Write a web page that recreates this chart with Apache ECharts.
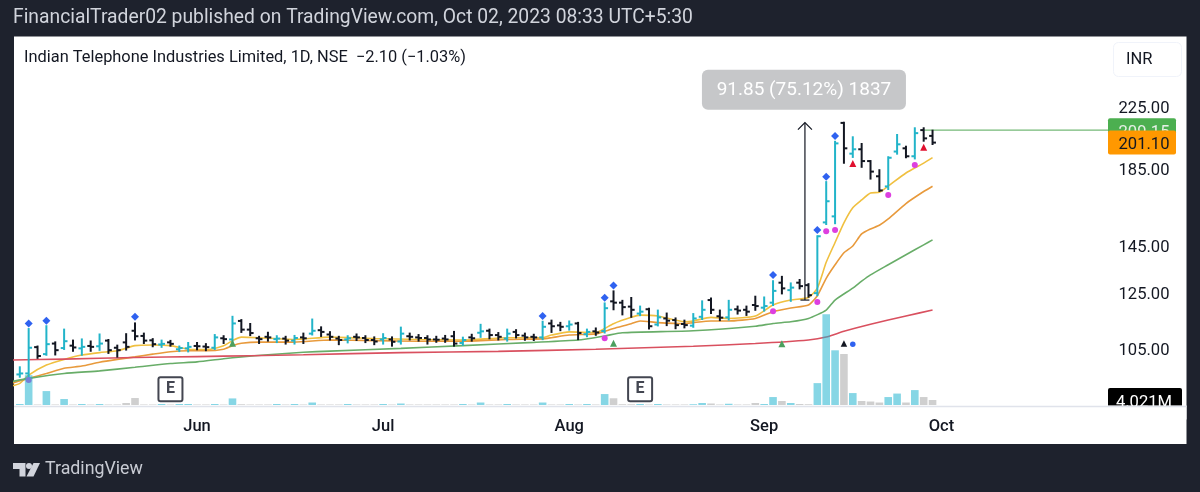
<!DOCTYPE html>
<html>
<head>
<meta charset="utf-8">
<style>html,body{margin:0;padding:0;background:#1e222d}#chart{width:1200px;height:492px}</style>
<script src="https://cdn.jsdelivr.net/npm/echarts@6/dist/echarts.min.js"></script>
</head>
<body>
<div id="chart"></div>
<script>
// daily bars from mid May 2023, index 0 is the first full bar in view
var opens = [96.7,97.0,105.4,103.1,106.6,105.1,105.9,105.0,105.8,105.7,107.6,105.2,107.0,111.0,109.2,107.7,106.3,107.0,104.7,105.0,
  105.8,105.6,105.2,108.4,108.0,114.5,111.4,108.4,108.9,108.1,108.3,107.6,108.7,110.0,111.2,109.7,108.3,108.0,108.9,108.5,107.8,
  108.0,108.0,107.3,109.1,108.7,108.5,108.0,108.3,109.1,106.8,108.7,110.3,111.0,109.5,108.3,110.6,109.3,108.9,108.7,113.6,112.9,
  112.6,113.6,109.8,110.8,110.9,121.8,121.3,119.8,117.2,118.8,113.2,115.4,114.8,113.4,112.8,116.0,122.3,116.2,115.8,118.8,118.6,120.4,
  119.4,121.3,129.2,126.2,129.2,128.2,125.0,156.3,159.3,214.0,194.2,196.9,189.7,180.8,175.1,195.5,197.5,192.6,209.2,205.4];
var highs = [98.9,111.6,105.6,112.6,107.0,111.4,107.6,108.0,107.3,109.7,107.8,105.9,109.8,113.6,110.0,108.1,107.6,107.5,105.6,106.8,
  106.8,106.4,109.5,109.1,116.0,114.8,113.4,108.9,110.3,109.1,108.9,109.2,110.0,115.0,112.2,110.5,108.9,109.1,109.7,109.1,108.7,
  109.8,108.7,112.1,110.0,109.5,109.1,108.9,109.2,110.6,108.6,109.6,113.1,111.4,110.2,111.4,111.2,110.0,109.6,114.2,114.6,113.8,
  114.3,113.8,111.4,111.8,121.0,125.7,122.0,123.1,119.8,119.0,118.3,117.2,115.4,114.6,117.0,121.8,122.9,118.3,122.0,119.8,119.8,123.6,
  123.3,129.8,131.6,128.9,130.3,128.6,149.6,177.5,201.6,214.1,204.5,200.2,189.7,184.3,192.0,206.0,198.5,210.4,210.4,208.8];
var lows = [96.0,95.0,101.9,102.9,103.0,104.8,104.2,102.9,104.2,104.5,103.5,102.3,104.6,108.0,106.8,105.7,105.5,105.9,104.1,104.0,
  104.7,104.4,104.8,106.8,106.6,110.6,109.5,106.8,107.6,107.1,106.6,106.6,106.8,109.7,109.2,108.0,106.4,107.0,107.8,107.1,106.4,
  106.6,105.9,106.6,108.0,107.6,106.6,107.2,107.2,105.9,106.2,107.6,108.9,108.4,108.0,107.6,108.7,107.9,107.8,108.1,110.6,111.2,
  111.4,108.1,109.1,109.6,110.4,118.8,116.9,116.0,116.6,111.8,112.9,113.0,111.9,112.2,112.4,115.2,117.4,114.8,115.0,117.2,116.7,118.6,
  118.3,120.4,124.9,122.0,126.9,123.6,124.2,155.5,155.9,188.7,192.2,186.3,179.5,172.6,173.7,194.2,192.0,191.3,202.3,200.2];
var closes = [97.0,105.2,102.5,106.4,104.4,107.4,105.3,105.5,105.5,106.6,104.4,104.4,105.5,109.1,107.6,106.4,106.5,106.5,105.1,105.5,
  105.7,105.4,108.7,108.1,113.6,111.4,110.2,108.1,108.7,108.3,107.6,108.5,108.4,111.0,110.6,108.9,107.8,108.4,108.7,107.8,107.3,
  108.5,107.2,110.0,108.9,108.5,108.0,107.9,108.0,106.6,107.8,108.4,110.8,109.5,108.9,110.0,109.5,108.7,108.7,112.4,112.6,112.4,
  113.2,110.2,110.6,110.4,119.2,121.3,119.6,118.6,117.9,112.6,115.8,114.6,113.0,113.0,115.4,118.6,118.6,115.7,118.6,118.3,117.9,120.0,
  120.0,125.9,126.9,127.2,127.8,124.2,149.6,167.1,200.6,197.5,196.9,189.7,183.5,172.9,191.7,200.0,192.6,207.2,203.8,201.1];
var volumes = [0.8,24,0.4,11.2,0.4,4.8,0.4,0.8,0.4,0.8,0.4,0.4,1.6,5.6,0.4,0.4,0.8,0.4,0.8,0.8,
  0.4,0.4,0.8,0.4,5.3,0.6,0.4,0.4,0.4,0.8,0.4,0.8,0.4,2,0.4,0.4,0.4,0.8,0.4,0.4,0.4,
  0.8,0.4,1.2,0.4,0.4,0.4,0.4,0.4,0.4,0.8,0.4,2,0.4,0.4,0.8,0.4,0.4,0.4,2,0.4,0.4,
  0.8,0.4,0.8,0.4,8.8,5.4,0.6,0.6,0.8,0.4,0.8,0.4,0.4,0.4,0.6,1.6,1.2,0.4,1,0.4,0.4,1.6,
  0.8,6.4,3.2,1.6,0.8,0.6,17.6,73,44,41,9.6,3.2,2.8,2,6.4,9.2,2,12,6.4,4.021];

// moving averages, read at the bars where they bend
var ema1Idx = [-1,0,1,3,5,7,9,11,13,15,17,19,21,23,24,25,27,31,35,40,45,50,55,59,60,62,65,66,67,69,70,72,75,76,78,80,83,85,87,89,90,91,92,93,94,95,96,97,98,100,102,103];
var ema1Val = [93.2,94.0,96.5,99.6,101.4,102.8,103.6,104.2,105.9,106.1,105.9,104.7,104.6,105.9,107.6,108.8,108.6,108.0,108.8,108.3,108.0,107.8,108.6,108.6,109.5,110.6,110.4,111.8,113.5,115.8,116.6,116.3,114.2,114.5,115.8,115.4,116.3,120.4,122.3,123.3,127.0,137.8,146.7,156.1,163.7,167.8,171.5,171.9,175.3,182.7,188.5,191.8];
var ema2Idx = [-1,1,3,5,7,9,11,13,15,17,19,21,23,24,25,27,31,35,40,45,50,55,59,60,62,65,66,67,69,70,72,75,76,78,80,83,85,87,89,90,91,92,93,94,95,96,97,98,100,102,103];
var ema2Val = [94.0,95.5,97.0,98.6,99.3,100.5,101.4,102.2,103.1,103.9,104.2,104.2,104.7,105.9,106.7,107.1,107.1,107.8,107.6,107.4,107.4,108.0,108.2,108.6,109.5,109.9,110.8,111.8,113.5,114.5,113.9,113.5,113.9,114.5,114.5,115.4,117.9,119.3,120.4,124.0,131.0,136.7,142.0,145.1,150.7,153.1,154.9,158.0,165.9,172.3,175.2];
var ema3Idx = [-1,1,5,9,13,17,20,23,25,28,32,35,43,50,58,63,66,68,76,83,85,87,89,91,92,94,95,96,98,100,102,103];
var ema3Val = [94.5,95.5,97.0,97.8,98.9,100.1,100.6,101.6,102.2,102.9,103.7,104.1,105.0,105.9,107.0,107.8,109.2,110.3,111.0,112.6,113.6,114.2,115.4,118.5,122.3,127.0,129.8,132.4,136.7,141.1,145.6,147.9];
var ema4Idx = [-1,5,13,20,26,32,43,54,65,76,83,89,91,93,96,100,103];
var ema4Val = [101.2,101.5,102.0,102.3,102.6,102.9,103.6,104.0,104.7,105.7,106.6,107.8,108.8,110.8,113.3,116.3,118.5];

// signal marks
var diamondIdx = [1,3,13,59,66,67,85,90,91,92];
var diamondVal = [113.6,114.6,116.0,116.3,123.2,128.1,132.4,152.6,180.6,205.3];
var pinkIdx = [1,66,85,90,91,92,98,101];
var pinkVal = [95.0,108.4,118.1,121.6,152.0,152.6,170.4,187.3];
var greenTriIdx = [24,67,86];
var greenTriVal = [106.7,106.7,106.5];
var redTriIdx = [94,102];
var redTriVal = [188.3,198.1];
var blackTriIdx = [93];
var blackTriVal = [106.6];
var blueDotIdx = [94];
var blueDotVal = [106.4];
var earningsIdx = [17,70];
var earningsVal = [92.3,92.3];

var monthTicks = [20,41,62,84,104];
var monthLabels = ['Jun','Jul','Aug','Sep','Oct'];
var priceTicks = [105,125,145,185,225];
var rayStart = 102, rayEnd = 122.8, rayPrice = 209.15;
var lastPrice = 201.10, lastVolume = 4.021;
var measureIdx = 88.6, measureLow = 122.3, measureHigh = 214.15;
var measureText = '91.85 (75.12%) 1837';

var FONT = 'Roboto';
var UP = '#22b4c9', DOWN = '#131722';

function zip(xs, ys) {
    return xs.map(function (x, i) { return [x, ys[i]]; });
}

function renderBar(params, api) {
    var x = api.value(0);
    var o = api.coord([x, api.value(1)]);
    var h = api.coord([x, api.value(2)]);
    var l = api.coord([x, api.value(3)]);
    var c = api.coord([x, api.value(4)]);
    var style = { stroke: api.value(4) >= api.value(1) ? UP : DOWN, lineWidth: 2, fill: null };
    return {
        type: 'group',
        children: [
            { type: 'line', shape: { x1: o[0], y1: h[1] - 1, x2: o[0], y2: l[1] + 1 }, style: style },
            { type: 'line', shape: { x1: o[0] - 3.4, y1: o[1], x2: o[0], y2: o[1] }, style: style },
            { type: 'line', shape: { x1: c[0], y1: c[1], x2: c[0] + 3.4, y2: c[1] }, style: style }
        ]
    };
}

function renderMeasure(params, api) {
    var top = api.coord([measureIdx, measureHigh]);
    var low = api.coord([measureIdx, measureLow]);
    var style = { stroke: '#131722', lineWidth: 1.2, fill: null };
    return {
        type: 'group',
        children: [
            { type: 'line', shape: { x1: top[0], y1: top[1], x2: low[0], y2: low[1] }, style: style },
            { type: 'polyline', shape: { points: [[top[0] - 7, top[1] + 7], [top[0], top[1]], [top[0] + 7, top[1] + 7]] }, style: style },
            { type: 'line', shape: { x1: low[0] - 4.5, y1: low[1], x2: low[0] + 4.5, y2: low[1] }, style: style },
            { type: 'rect', shape: { x: top[0] - 103, y: top[1] - 53, width: 204, height: 40, r: 6 }, style: { fill: '#c6c7c9' } },
            { type: 'text', x: top[0] - 1, y: top[1] - 32, style: { text: measureText, fill: '#fff', font: '19px ' + FONT, align: 'center', verticalAlign: 'middle' } }
        ]
    };
}

function tagSeries(xAxisIndex, yAxisIndex, value, text, width, fill, color, z) {
    return {
        type: 'custom',
        xAxisIndex: xAxisIndex,
        yAxisIndex: yAxisIndex,
        coordinateSystem: 'cartesian2d',
        data: [[rayEnd, value]],
        clip: false,
        silent: true,
        z: z,
        renderItem: function (params, api) {
            var p = api.coord([rayEnd, value]);
            return {
                type: 'group',
                children: [
                    { type: 'rect', shape: { x: p[0], y: p[1] - 12, width: width, height: 24, r: 2 }, style: { fill: fill } },
                    { type: 'text', x: p[0] + 36, y: p[1] + 2.5, style: { text: text, fill: color, font: '16.6px ' + FONT, align: 'center', verticalAlign: 'middle' } }
                ]
            };
        }
    };
}

function marks(symbol, size, color, xs, ys, extra) {
    return Object.assign({
        type: 'scatter',
        symbol: symbol,
        symbolSize: size,
        itemStyle: { color: color, opacity: 1 },
        silent: true,
        z: 4,
        data: zip(xs, ys)
    }, extra || {});
}

function emaLine(color, xs, ys) {
    return {
        type: 'line',
        showSymbol: false,
        silent: true,
        smooth: 0.2,
        lineStyle: { color: color, width: 1.6 },
        z: 2,
        data: zip(xs, ys)
    };
}

var barData = opens.map(function (o, i) { return [i, o, highs[i], lows[i], closes[i]]; });
var volData = volumes.map(function (v, i) {
    return {
        value: [i, v],
        itemStyle: { color: closes[i] >= opens[i] ? 'rgba(34,181,208,0.55)' : 'rgba(160,160,160,0.5)' }
    };
});

var chart = echarts.init(document.getElementById('chart'));

var option = {
    animation: false,
    backgroundColor: '#1e222d',
    tooltip: { show: false },
    grid: [
        { left: 14, top: 37, width: 1094, height: 368, show: false },
        { left: 14, top: 37, width: 1094, height: 368, show: false }
    ],
    xAxis: [{
        type: 'value',
        gridIndex: 0,
        min: -0.655,
        max: rayEnd,
        axisLine: { show: false },
        axisTick: { show: false },
        splitLine: { show: false },
        axisLabel: {
            customValues: monthTicks,
            formatter: function (v) { return monthLabels[monthTicks.indexOf(v)]; },
            color: '#131722',
            fontFamily: FONT,
            fontWeight: 500,
            fontSize: 16.5,
            margin: 13
        }
    }, {
        type: 'value',
        gridIndex: 1,
        min: -0.655,
        max: rayEnd,
        show: false
    }],
    yAxis: [{
        type: 'log',
        gridIndex: 0,
        position: 'right',
        min: 87.8,
        max: 280.7,
        axisLine: { show: false },
        axisTick: { show: false },
        splitLine: { show: false },
        minorTick: { show: false },
        axisLabel: {
            customValues: priceTicks,
            formatter: function (v) { return Number(v).toFixed(2); },
            align: 'center',
            verticalAlign: 'top',
            lineHeight: 4,
            color: '#131722',
            fontFamily: FONT,
            fontSize: 16.6,
            margin: 36
        }
    }, {
        type: 'value',
        gridIndex: 1,
        min: 0,
        max: 296,
        show: false
    }],
    series: [
        emaLine('#f0c040', ema1Idx, ema1Val),
        emaLine('#e89a3c', ema2Idx, ema2Val),
        emaLine('#68ad68', ema3Idx, ema3Val),
        emaLine('#d9505f', ema4Idx, ema4Val),
        {
            type: 'line',
            showSymbol: false,
            silent: true,
            lineStyle: { color: '#74b977', width: 1.4 },
            z: 2,
            data: [[rayStart, rayPrice], [rayEnd, rayPrice]]
        },
        marks('circle', 6, '#dd3fe0', pinkIdx, pinkVal),
        {
            type: 'custom',
            coordinateSystem: 'cartesian2d',
            clip: true,
            silent: true,
            z: 3,
            encode: { x: 0, y: [1, 2, 3, 4] },
            renderItem: renderBar,
            data: barData
        },
        {
            type: 'bar',
            xAxisIndex: 1,
            yAxisIndex: 1,
            barWidth: 7.6,
            silent: true,
            z: 5,
            data: volData
        },
        marks('diamond', 8, '#2f62f0', diamondIdx, diamondVal),
        marks('triangle', 7, '#4c9f5e', greenTriIdx, greenTriVal),
        marks('triangle', 7, '#e0102f', redTriIdx, redTriVal),
        marks('triangle', 6.5, '#131722', blackTriIdx, blackTriVal),
        marks('circle', 5.5, '#2f62f0', blueDotIdx, blueDotVal),
        marks('path://M2 0H22Q24 0 24 2V22Q24 24 22 24H2Q0 24 0 22V2Q0 0 2 0Z', 24, '#ffffff', earningsIdx, earningsVal, {
            itemStyle: { color: '#fff', borderColor: '#434651', borderWidth: 2, opacity: 1 },
            label: { show: true, formatter: 'E', position: 'inside', color: '#434651', fontFamily: FONT, fontWeight: 700, fontSize: 16 }
        }),
        {
            type: 'custom',
            coordinateSystem: 'cartesian2d',
            clip: false,
            silent: true,
            z: 6,
            renderItem: renderMeasure,
            data: [[measureIdx, measureHigh]]
        },
        tagSeries(0, 0, rayPrice, rayPrice.toFixed(2), 68, '#4caf50', '#e6efe6', 7),
        tagSeries(0, 0, lastPrice, lastPrice.toFixed(2), 68, '#ff9800', '#131722', 8),
        tagSeries(1, 1, lastVolume, lastVolume.toFixed(3) + 'M', 74, '#000000', '#ffffff', 7)
    ],
    graphic: [
        // white chart panel under everything
        { type: 'rect', z: -10, silent: true, shape: { x: 14, y: 36.5, width: 1172.5, height: 407.5 }, style: { fill: '#ffffff' } },
        // cuts the volume tag off at the pane bottom
        { type: 'rect', z: 50, silent: true, shape: { x: 1100, y: 405.5, width: 86.5, height: 14 }, style: { fill: '#ffffff' } },
        { type: 'line', z: 51, silent: true, shape: { x1: 14, y1: 406.5, x2: 1186.5, y2: 406.5 }, style: { stroke: '#e0e3eb', lineWidth: 1.5 } },
        { type: 'text', z: 51, silent: true, x: 13, y: 18.5, style: { text: 'FinancialTrader02 published on TradingView.com, Oct 02, 2023 08:33 UTC+5:30', fill: '#d1d4dc', font: '19.3px ' + FONT, verticalAlign: 'middle' } },
        { type: 'text', z: 51, silent: true, x: 24, y: 58, style: { text: 'Indian Telephone Industries Limited, 1D, NSE  \u22122.10 (\u22121.03%)', fill: '#131722', font: '16.4px ' + FONT, verticalAlign: 'middle' } },
        { type: 'rect', z: 51, silent: true, shape: { x: 1113.5, y: 42.5, width: 68, height: 34, r: 5 }, style: { fill: '#fff', stroke: '#f0f3fa', lineWidth: 1 } },
        { type: 'text', z: 52, silent: true, x: 1126, y: 60, style: { text: 'INR', fill: '#131722', font: '16.5px ' + FONT, verticalAlign: 'middle' } },
        // TradingView mark
        { type: 'polygon', z: 51, silent: true, shape: { points: [[13, 463], [25.5, 463], [25.5, 476.5], [19.5, 476.5], [19.5, 469], [13, 469]] }, style: { fill: '#d1d4dc' } },
        { type: 'circle', z: 51, silent: true, shape: { cx: 29, cy: 466, r: 3 }, style: { fill: '#d1d4dc' } },
        { type: 'polygon', z: 51, silent: true, shape: { points: [[33.5, 463], [40, 463], [33.5, 476.5], [26.5, 476.5]] }, style: { fill: '#d1d4dc' } },
        { type: 'text', z: 51, silent: true, x: 45, y: 469.5, style: { text: 'TradingView', fill: '#c8cbd3', font: '17.8px ' + FONT, verticalAlign: 'middle' } }
    ]
};

chart.setOption(option);
</script>
</body>
</html>
